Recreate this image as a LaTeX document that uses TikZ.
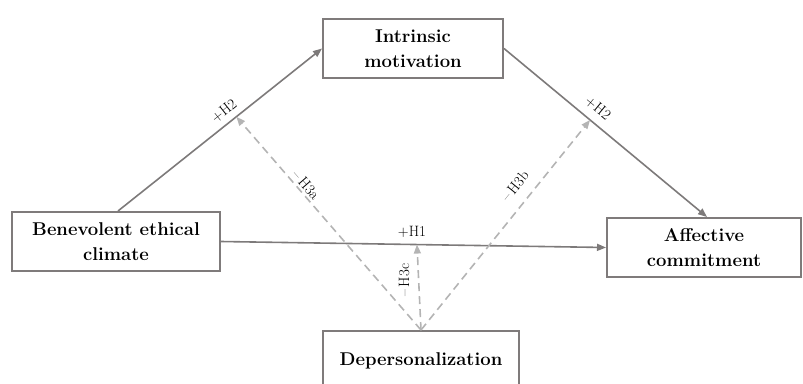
\documentclass[tikz,border=0pt]{standalone}
\usepackage{fontspec}
\usetikzlibrary{arrows.meta,calc}
\definecolor{boxgray}{HTML}{7F7B7B}
\definecolor{arrgray}{HTML}{7D7A7A}
\definecolor{dashgray}{HTML}{B4B4B4}
\begin{document}
\begin{tikzpicture}[x=1pt,y=-1pt,
  box/.style={draw=boxgray, line width=2pt, minimum width=#1, minimum height=59pt,
    inner sep=0pt, align=center, font=\fontsize{18.5}{24.5}\selectfont\bfseries},
  arr/.style={draw=arrgray, line width=1.6pt, -{Triangle[length=9pt,width=7pt]}},
  darr/.style={draw=dashgray, line width=1.6pt, dash pattern=on 8pt off 5pt,
    -{Triangle[length=9pt,width=7pt]}},
  lab/.style={font=\fontsize{15}{17}\selectfont, inner sep=0pt, text=black}]
\useasboundingbox (0,0) rectangle (803,383);
\clip (0,0) rectangle (803,383);

\node[box=180pt] (IM) at (413,48.5) {Intrinsic\\motivation};
\node[box=208pt] (BEC) at (116,241.5) {Benevolent ethical\\climate};
\node[box=194pt] (AC) at (704,247.5) {Affective\\commitment};
\node[box=196pt] (DP) at (421,360.5) {Depersonalization};

\draw[arr] ($(BEC.north)+(2,0)$) -- (IM.west);
\draw[arr] (IM.east) -- ($(AC.north)+(3,0)$);
\draw[arr] (BEC.east) -- (AC.west);

\coordinate (p1) at ($($(BEC.north)+(2,0)$)!0.58!(IM.west)$);
\coordinate (p2) at ($(IM.east)!0.424!($(AC.north)+(3,0)$)$);
\coordinate (p3) at ($(BEC.east)!0.509!(AC.west)$);

\draw[darr] (DP.north) -- (p1);
\draw[darr] (DP.north) -- (p2);
\draw[darr] (DP.north) -- (p3);

\node[lab, rotate=38.5] (l1) at (224,111) {+H2};
\node[lab, rotate=-39.6] (l2) at (598,108) {+H2};
\node[lab] (l3) at (412,232) {+H1};
\node[lab, rotate=-49] (l4) at (306,185) {--\,H3a};
\node[lab, rotate=51] (l5) at (515,186) {--\,H3b};
\node[lab, rotate=90] (l6) at (404,280) {--\,H3c};
\end{tikzpicture}
\end{document}
